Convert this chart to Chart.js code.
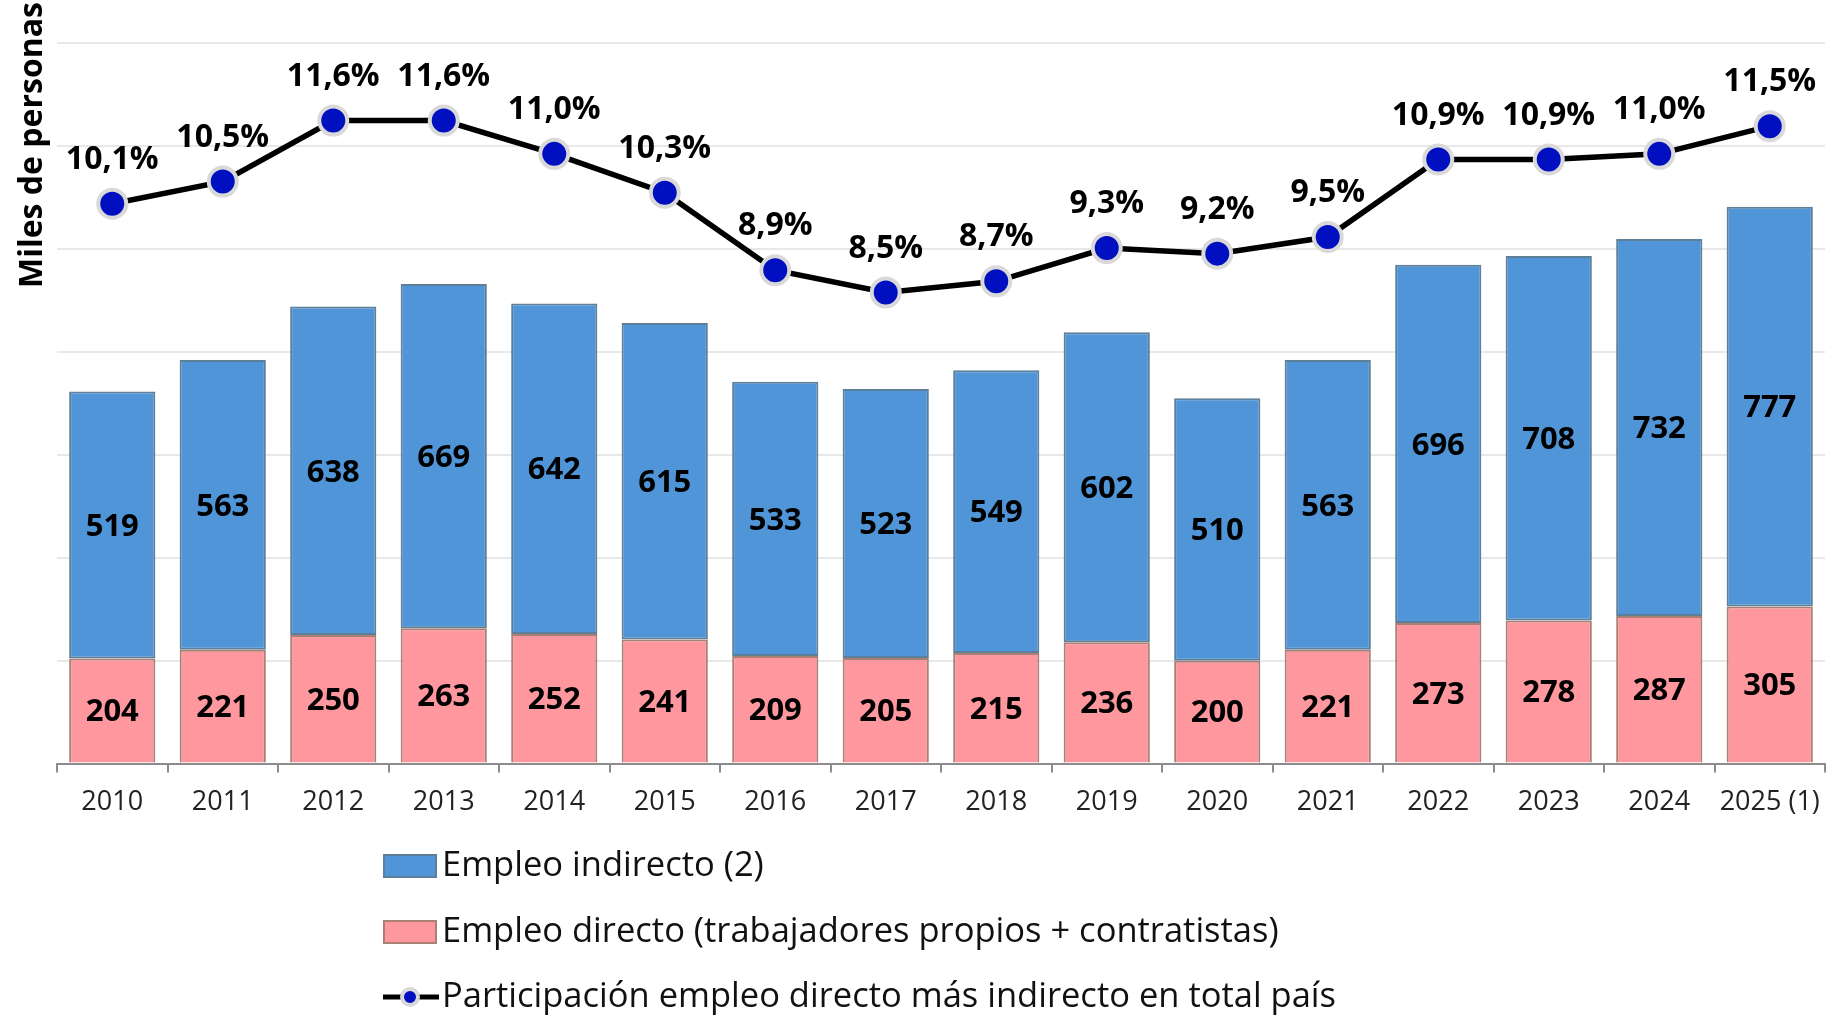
<!DOCTYPE html>
<html lang="es">
<head>
<meta charset="utf-8">
<title>Empleo directo e indirecto</title>
<script src="https://cdn.jsdelivr.net/npm/chart.js@4.4.1/dist/chart.umd.min.js"></script>
<style>
  html, body { margin: 0; padding: 0; background: #ffffff; }
  #wrap { width: 1843px; height: 1017px; position: relative; }
  canvas { display: block; }
</style>
</head>
<body>
<div id="wrap"><canvas id="chart" width="1843" height="1017"></canvas></div>
<script>
// Años (eje de categorías)
const categories = ['2010', '2011', '2012', '2013', '2014', '2015', '2016', '2017',
                    '2018', '2019', '2020', '2021', '2022', '2023', '2024', '2025 (1)'];

// Miles de personas
const empleoDirecto   = [204, 221, 250, 263, 252, 241, 209, 205, 215, 236, 200, 221, 273, 278, 287, 305];
const empleoIndirecto = [519, 563, 638, 669, 642, 615, 533, 523, 549, 602, 510, 563, 696, 708, 732, 777];

// Participación en el empleo total del país (%)
const participacion = [10.1, 10.5, 11.6, 11.6, 11.0, 10.3, 8.9, 8.5, 8.7, 9.3, 9.2, 9.5, 10.9, 10.9, 11.0, 11.5];

// Escala del eje de miles de personas
const yTicks = [0, 200, 400, 600, 800, 1000, 1200, 1400];

const seriesNames = {
  indirecto: 'Empleo indirecto (2)',
  directo: 'Empleo directo (trabajadores propios + contratistas)',
  participacion: 'Participación empleo directo más indirecto en total país'
};

const FONT = '"Open Sans", "Noto Sans", "DejaVu Sans", sans-serif';
const COLORS = {
  blue: '#4f95d8', blueBorder: '#5e7f9a',
  pink: '#ff979f', pinkBorder: '#a88075',
  line: '#000000', point: '#0010c0', pointBorder: '#d9d9d9',
  grid: '#e8e8e8', axis: '#8c8c8c', text: '#000000'
};

const fmtPct = v => v.toFixed(1).replace('.', ',') + '%';

// Etiquetas de valor sobre barras y puntos
const valueLabels = {
  id: 'valueLabels',
  afterDatasetsDraw(chart) {
    const ctx = chart.ctx;
    ctx.save();
    ctx.fillStyle = COLORS.text;
    ctx.textAlign = 'center';
    ctx.textBaseline = 'middle';
    chart.data.datasets.forEach((ds, i) => {
      const meta = chart.getDatasetMeta(i);
      if (meta.hidden) return;
      meta.data.forEach((el, j) => {
        const v = ds.data[j];
        if (ds.type === 'line') {
          ctx.font = 'bold 32px ' + FONT;
          ctx.fillText(fmtPct(v), el.x, el.y - 44);
        } else {
          ctx.font = 'bold 31px ' + FONT;
          ctx.fillText(String(v), el.x, (el.y + el.base) / 2 + 2);
        }
      });
    });
    ctx.restore();
  }
};

// Título vertical del eje y leyenda en columna
const decorations = {
  id: 'decorations',
  afterDraw(chart) {
    const ctx = chart.ctx;
    ctx.save();
    // Título del eje
    ctx.translate(42, 288);
    ctx.rotate(-Math.PI / 2);
    ctx.font = 'bold 32px ' + FONT;
    ctx.fillStyle = COLORS.text;
    ctx.textAlign = 'left';
    ctx.textBaseline = 'alphabetic';
    ctx.fillText('Miles de personas', 0, 0);
    ctx.restore();

    // Leyenda
    ctx.save();
    const x0 = 384, tx = 442;
    const rows = [
      { y: 866, kind: 'bar', fill: COLORS.blue, stroke: COLORS.blueBorder, text: seriesNames.indirecto },
      { y: 932, kind: 'bar', fill: COLORS.pink, stroke: COLORS.pinkBorder, text: seriesNames.directo },
      { y: 997, kind: 'line', text: seriesNames.participacion }
    ];
    rows.forEach(r => {
      if (r.kind === 'bar') {
        ctx.fillStyle = r.fill;
        ctx.strokeStyle = r.stroke;
        ctx.lineWidth = 2;
        ctx.fillRect(x0, r.y - 11, 52, 22);
        ctx.strokeRect(x0, r.y - 11, 52, 22);
      } else {
        ctx.strokeStyle = COLORS.line;
        ctx.lineWidth = 5;
        ctx.beginPath();
        ctx.moveTo(x0 - 1, r.y);
        ctx.lineTo(x0 + 55, r.y);
        ctx.stroke();
        ctx.beginPath();
        ctx.arc(x0 + 26, r.y, 8, 0, Math.PI * 2);
        ctx.fillStyle = COLORS.point;
        ctx.fill();
        ctx.lineWidth = 4;
        ctx.strokeStyle = COLORS.pointBorder;
        ctx.stroke();
      }
      ctx.fillStyle = '#111111';
      ctx.font = '34.5px ' + FONT;
      ctx.textAlign = 'left';
      ctx.textBaseline = 'middle';
      ctx.fillText(r.text, tx, r.y);
    });
    ctx.restore();
  }
};

new Chart(document.getElementById('chart'), {
  data: {
    labels: categories,
    datasets: [
      {
        type: 'line',
        label: seriesNames.participacion,
        data: participacion,
        yAxisID: 'y1',
        order: 0,
        borderColor: COLORS.line,
        borderWidth: 5.5,
        pointRadius: 14,
        pointHoverRadius: 14,
        pointBackgroundColor: COLORS.point,
        pointBorderColor: COLORS.pointBorder,
        pointBorderWidth: 4,
        tension: 0,
        fill: false
      },
      {
        type: 'bar',
        label: seriesNames.directo,
        data: empleoDirecto,
        yAxisID: 'y',
        stack: 'empleo',
        order: 1,
        backgroundColor: COLORS.pink,
        borderColor: COLORS.pinkBorder,
        borderWidth: 2,
        borderSkipped: 'bottom',
        barPercentage: 0.78,
        categoryPercentage: 1
      },
      {
        type: 'bar',
        label: seriesNames.indirecto,
        data: empleoIndirecto,
        yAxisID: 'y',
        stack: 'empleo',
        order: 2,
        backgroundColor: COLORS.blue,
        borderColor: COLORS.blueBorder,
        borderWidth: 2,
        borderSkipped: false,
        barPercentage: 0.78,
        categoryPercentage: 1
      }
    ]
  },
  options: {
    responsive: false,
    animation: false,
    devicePixelRatio: 1,
    layout: { padding: { left: 57, right: 13, top: 43, bottom: 184 } },
    plugins: {
      legend: { display: false },
      tooltip: { enabled: false }
    },
    scales: {
      x: {
        stacked: true,
        offset: true,
        border: { display: true, color: COLORS.axis, width: 2 },
        grid: {
          display: true, offset: true, drawOnChartArea: false,
          drawTicks: true, tickLength: 9, color: COLORS.axis, lineWidth: 2
        },
        ticks: {
          color: '#222222',
          font: { family: FONT, size: 27 },
          padding: 14,
          maxRotation: 0,
          autoSkip: false
        }
      },
      y: {
        stacked: true,
        min: yTicks[0],
        max: yTicks[yTicks.length - 1],
        afterBuildTicks(scale) { scale.ticks = yTicks.map(v => ({ value: v })); },
        border: { display: false },
        grid: { color: COLORS.grid, lineWidth: 2, drawTicks: false },
        ticks: { display: false }
      },
      y1: {
        display: false,
        position: 'right',
        min: 0,
        max: 13,
        grid: { drawOnChartArea: false }
      }
    }
  },
  plugins: [valueLabels, decorations]
});
</script>
</body>
</html>
